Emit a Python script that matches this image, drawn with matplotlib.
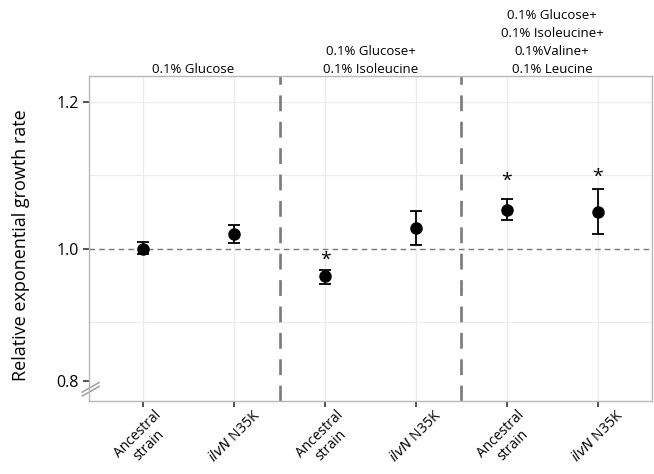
import numpy as np
import matplotlib
matplotlib.use("Agg")
import matplotlib.pyplot as plt

plt.rcParams['font.family'] = ['Open Sans', 'DejaVu Sans']

# data
strains = ['Ancestral\nstrain', '$\\it{ilvN}$ N35K'] * 3
means = [1.000, 1.020, 0.962, 1.028, 1.053, 1.050]
err_low = [0.008, 0.013, 0.010, 0.023, 0.014, 0.030]
err_high = [0.009, 0.012, 0.009, 0.023, 0.014, 0.031]
star_pos = [2, 4, 5]
star_y = [0.984, 1.092, 1.098]
media = ['0.1% Glucose',
         '0.1% Glucose+\n0.1% Isoleucine',
         '0.1% Glucose+\n0.1% Isoleucine+\n0.1%Valine+\n0.1% Leucine']

fig = plt.figure(figsize=(6.54, 4.74), dpi=100)
ax = fig.add_axes([0.136, 0.154, 0.861, 0.686])

x = np.arange(len(means))
ax.errorbar(x, means, yerr=[err_low, err_high], fmt='o', color='black',
            markersize=8, capsize=4.5, elinewidth=1.3, capthick=1.3, zorder=5)

for i, ys in zip(star_pos, star_y):
    ax.text(i, ys, '*', ha='center', va='center', fontsize=14, zorder=6)

ax.axhline(1.0, color='#777777', linestyle=(0, (4, 3)), linewidth=1.0, zorder=2)
for xv in [1.5, 3.5]:
    ax.axvline(xv, color='#7a7a7a', linestyle=(0, (6, 4)), linewidth=1.9, zorder=2)

ax.set_xlim(-0.6, 5.6)
ax.set_ylim(0.792, 1.2355)

ax.set_xticks(x)
ax.set_xticklabels(strains, rotation=45, ha='center', va='top', fontsize=10,
                   linespacing=1.1)
ax.set_yticks([0.819, 1.0, 1.2])
ax.set_yticklabels(['0.8', '1.0', '1.2'], fontsize=11.5)
ax.set_yticks([0.9, 1.1], minor=True)
ax.tick_params(axis='y', which='minor', length=0)
ax.tick_params(axis='both', which='major', length=4, width=1.2, color='#333333')
ax.tick_params(axis='x', which='major', pad=1)

ax.grid(True, which='both', color='#ececec', linewidth=0.9, zorder=0)
ax.grid(False, axis='y', which='major')
ax.axhline(1.2, color='#ececec', linewidth=0.9, zorder=0)
for sp in ax.spines.values():
    sp.set_color('#b8b8b8')
    sp.set_linewidth(1.0)

ax.set_ylabel('Relative exponential growth rate', fontsize=13)
ax.yaxis.set_label_coords(-0.105, 0.48)

# condition labels above each panel
for cx, lab in zip([0.55, 2.5, 4.5], media):
    ax.text(cx, 1.2355, lab, ha='center', va='bottom', fontsize=9.5,
            linespacing=1.5)

# axis break marks
for dy in [0, 0.012]:
    ax.plot([-0.012, 0.018], [0.015 + dy, 0.045 + dy], transform=ax.transAxes,
            color='#999999', linewidth=1.0, clip_on=False)

fig.savefig('out.png', dpi=100)
